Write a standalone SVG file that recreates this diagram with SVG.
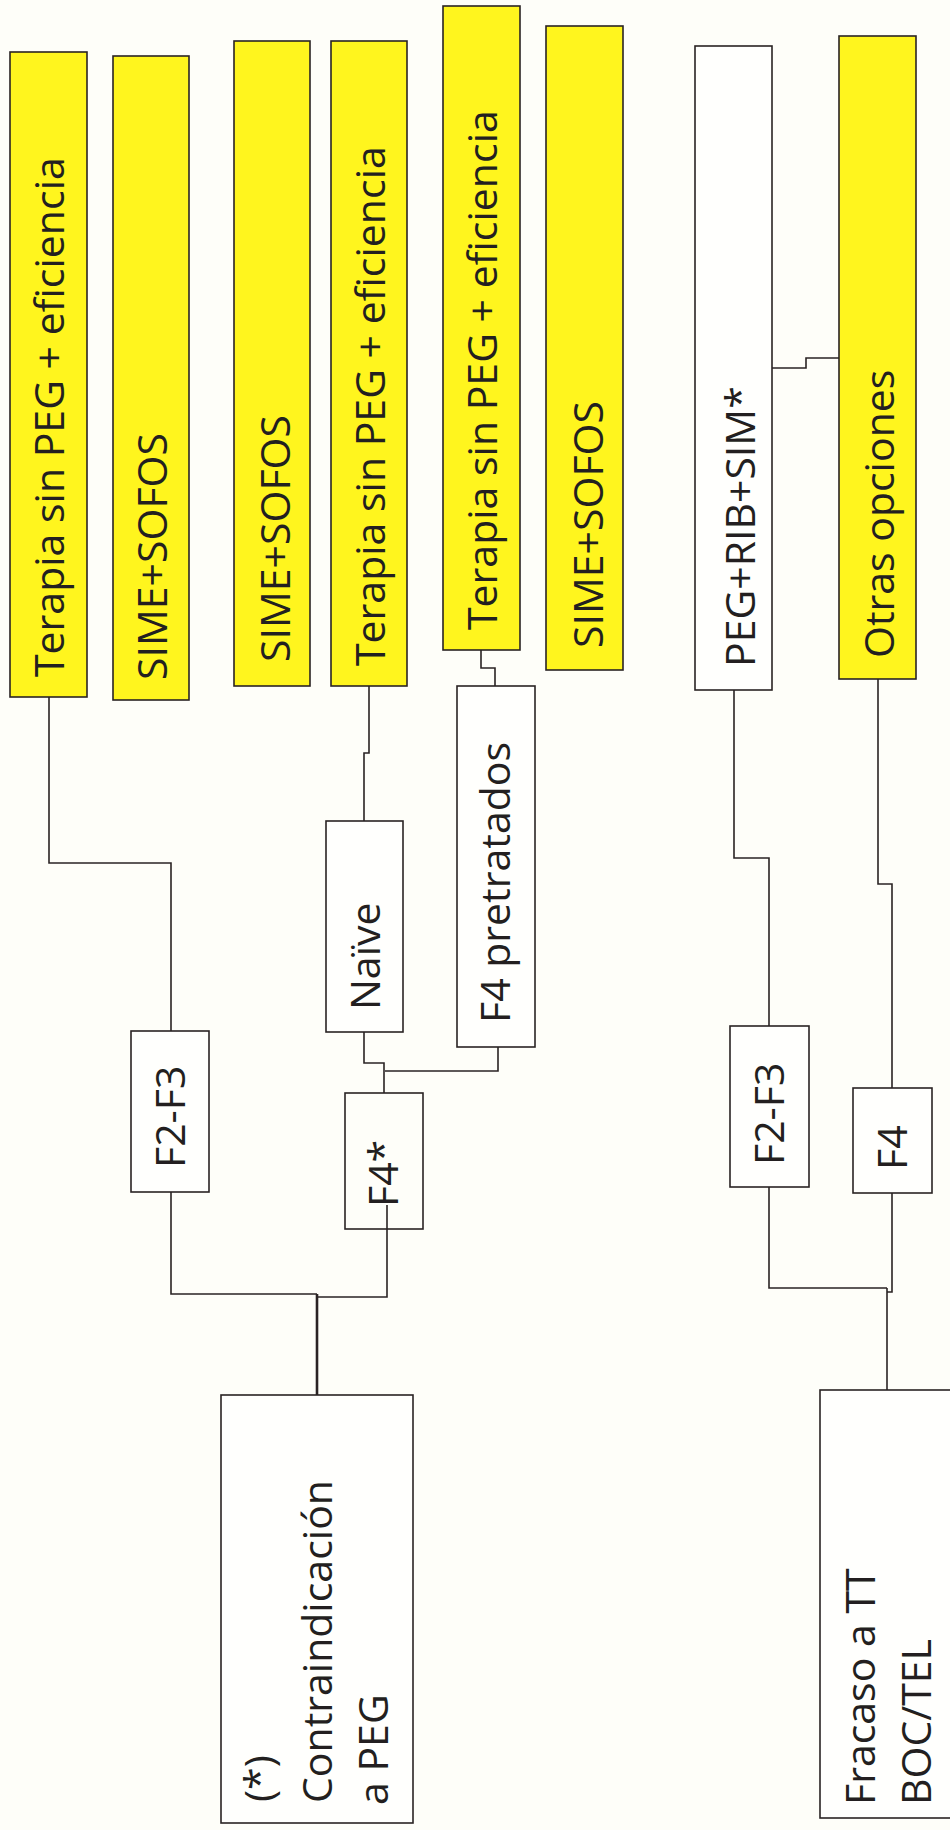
<svg xmlns="http://www.w3.org/2000/svg" width="950" height="1830" viewBox="0 0 950 1830">
  <style>
    .box { stroke: #2a2324; stroke-width: 1.6; }
    .y { fill: #FFF51E; }
    .w { fill: #FFFFFD; }
    .lbl { font-family: "Open Sans", "Noto Sans", "Liberation Sans", sans-serif; font-size: 41px; fill: #231f20; }
    .wire { fill: none; stroke: #2a2324; stroke-width: 1.6; }
    .trunk { fill: none; stroke: #2a2324; stroke-width: 2.6; }
  </style>
  <rect x="0" y="0" width="950" height="1830" fill="#FEFEF9"/>

  <!-- connectors -->
  <g id="connectors">
    <path class="wire" d="M49 697 V863 H171 V1031"/>
    <path class="wire" d="M369 686 V753 H364 V821"/>
    <path class="wire" d="M364 1032 V1063 H384 V1093"/>
    <path class="wire" d="M481 650 V668 H495 V686"/>
    <path class="wire" d="M498 1047 V1071 H385"/>
    <path class="wire" d="M387 1205 V1297 H317"/>
    <path class="wire" d="M171 1192 V1294 H317"/>
    <path class="trunk" d="M317 1294 V1395"/>
    <path class="wire" d="M772 368 H806 V358 H839"/>
    <path class="wire" d="M734 690 V858 H769 V1026"/>
    <path class="wire" d="M878 679 V884 H892 V1088"/>
    <path class="wire" d="M892 1193 V1292 H887"/>
    <path class="wire" d="M769 1187 V1288 H887"/>
    <path class="wire" d="M887 1288 V1390"/>
  </g>

  <!-- treatment boxes (top row) -->
  <g id="terapia1">
    <rect class="box y" x="10" y="52" width="77" height="645"/>
    <text class="lbl" transform="translate(64 677) rotate(-90)">Terapia sin PEG + eficiencia</text>
  </g>
  <g id="sime1">
    <rect class="box y" x="113" y="56" width="76" height="644"/>
    <text class="lbl" transform="translate(167 680) rotate(-90)">SIME+SOFOS</text>
  </g>
  <g id="sime2">
    <rect class="box y" x="234" y="41" width="76" height="645"/>
    <text class="lbl" transform="translate(290 662) rotate(-90)">SIME+SOFOS</text>
  </g>
  <g id="terapia2">
    <rect class="box y" x="331" y="41" width="76" height="645"/>
    <text class="lbl" transform="translate(385 666) rotate(-90)">Terapia sin PEG + eficiencia</text>
  </g>
  <g id="terapia3">
    <rect class="box y" x="443" y="6" width="77" height="644"/>
    <text class="lbl" transform="translate(497 630) rotate(-90)">Terapia sin PEG + eficiencia</text>
  </g>
  <g id="sime3">
    <rect class="box y" x="546" y="26" width="77" height="644"/>
    <text class="lbl" transform="translate(603 648) rotate(-90)">SIME+SOFOS</text>
  </g>
  <g id="pegribsim">
    <rect class="box w" x="695" y="46" width="77" height="644"/>
    <text class="lbl" transform="translate(755 667) rotate(-90)">PEG+RIB+SIM*</text>
  </g>
  <g id="otras">
    <rect class="box y" x="839" y="36" width="77" height="643"/>
    <text class="lbl" transform="translate(894 658) rotate(-90)">Otras opciones</text>
  </g>

  <!-- intermediate boxes -->
  <g id="naive">
    <rect class="box w" x="326" y="821" width="77" height="211"/>
    <text class="lbl" transform="translate(380 1010) rotate(-90)">Naïve</text>
  </g>
  <g id="f4pretratados">
    <rect class="box w" x="457" y="686" width="78" height="361"/>
    <text class="lbl" transform="translate(510 1023) rotate(-90)">F4 pretratados</text>
  </g>
  <g id="f2f3a">
    <rect class="box w" x="131" y="1031" width="78" height="161"/>
    <text class="lbl" transform="translate(185 1168) rotate(-90)">F2-F3</text>
  </g>
  <g id="f4star">
    <rect class="box w" x="345" y="1093" width="78" height="136" fill-opacity="0"/>
    <text class="lbl" transform="translate(398 1207) rotate(-90)">F4*</text>
  </g>
  <g id="f2f3b">
    <rect class="box w" x="730" y="1026" width="79" height="161"/>
    <text class="lbl" transform="translate(784 1165) rotate(-90)">F2-F3</text>
  </g>
  <g id="f4b">
    <rect class="box w" x="853" y="1088" width="79" height="105"/>
    <text class="lbl" transform="translate(907 1170) rotate(-90)">F4</text>
  </g>

  <!-- root boxes -->
  <g id="contraindicacion">
    <rect class="box w" x="221" y="1395" width="192" height="428"/>
    <text class="lbl" transform="translate(274 1802) rotate(-90)">(*)</text>
    <text class="lbl" transform="translate(332 1803) rotate(-90)">Contraindicación</text>
    <text class="lbl" transform="translate(388 1805) rotate(-90)">a PEG</text>
  </g>
  <g id="fracaso">
    <rect class="box w" x="820" y="1390" width="160" height="428"/>
    <text class="lbl" transform="translate(875 1805) rotate(-90)">Fracaso a TT</text>
    <text class="lbl" transform="translate(931 1805) rotate(-90)">BOC/TEL</text>
  </g>
</svg>
